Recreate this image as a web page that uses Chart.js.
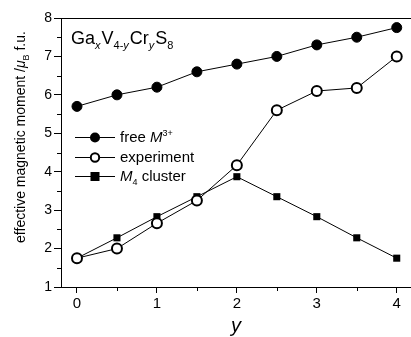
<!DOCTYPE html>
<html>
<head>
<meta charset="utf-8">
<script src="https://cdn.jsdelivr.net/npm/chart.js@4/dist/chart.umd.min.js"></script>
<style>
html,body{margin:0;padding:0;background:#fff;}
#wrap{width:411px;height:337px;position:relative;}
</style>
</head>
<body>
<div id="wrap"><canvas id="c" width="411" height="337"></canvas></div>
<script>
const yValues = [0, 0.5, 1, 1.5, 2, 2.5, 3, 3.5, 4];
const freeM = [5.7, 6.0, 6.2, 6.6, 6.8, 7.0, 7.3, 7.5, 7.75];
const experiment = [1.75, 2.0, 2.66, 3.25, 4.17, 5.6, 6.1, 6.18, 7.0];
const m4cluster = [1.75, 2.28, 2.83, 3.35, 3.87, 3.35, 2.83, 2.28, 1.75];
const xTicks = [0, 1, 2, 3, 4];
const yTicks = [1, 2, 3, 4, 5, 6, 7, 8];

const FONT = "'Liberation Sans', Arial, sans-serif";

function pts(vals){ return yValues.map((x,i)=>({x:x,y:vals[i]})); }

function drawRuns(ctx, x, y, runs){
  let cx = x;
  for (const r of runs){
    ctx.font = (r.italic ? 'italic ' : '') + r.size + 'px ' + FONT;
    ctx.fillText(r.t, cx, y + (r.dy||0));
    cx += ctx.measureText(r.t).width + (r.gap||0);
  }
  return cx;
}
function runsWidth(ctx, runs){
  let w = 0;
  for (const r of runs){
    ctx.font = (r.italic ? 'italic ' : '') + r.size + 'px ' + FONT;
    w += ctx.measureText(r.t).width + (r.gap||0);
  }
  return w;
}

const decor = {
  id: 'decor',
  afterDraw(chart){
    const ctx = chart.ctx;
    const a = chart.chartArea;
    const xs = chart.scales.x, ys = chart.scales.y;
    ctx.save();
    ctx.strokeStyle = '#000';
    ctx.fillStyle = '#000';
    ctx.lineWidth = 1;
    // top border
    ctx.beginPath();
    ctx.moveTo(a.left, a.top + 0.5);
    ctx.lineTo(chart.width, a.top + 0.5);
    ctx.stroke();
    // minor ticks
    ctx.beginPath();
    for (let v = -0.5; v <= 4.5; v += 1){
      const px = Math.round(xs.getPixelForValue(v)) + 0.5;
      if (px < a.left || px > a.right) continue;
      ctx.moveTo(px, a.bottom); ctx.lineTo(px, a.bottom + 4);
    }
    for (let v = 1.5; v < 8; v += 1){
      const py = Math.round(ys.getPixelForValue(v)) + 0.5;
      ctx.moveTo(a.left, py); ctx.lineTo(a.left - 4, py);
    }
    ctx.stroke();

    ctx.textBaseline = 'alphabetic';
    // title formula
    drawRuns(ctx, 71, 44, [
      {t:'Ga', size:18},
      {t:'x', size:11, italic:true, dy:5, gap:1},
      {t:'V', size:18},
      {t:'4-', size:11, dy:5},
      {t:'y', size:11, italic:true, dy:5, gap:1},
      {t:'Cr', size:18},
      {t:'y', size:11, italic:true, dy:5, gap:1},
      {t:'S', size:18},
      {t:'8', size:11, dy:5}
    ]);

    // y axis title
    const yt = [
      {t:'effective magnetic moment /', size:14},
      {t:'\u03bc', size:14, italic:true},
      {t:'B', size:9, dy:4},
      {t:' f.u.', size:14}
    ];
    const w = runsWidth(ctx, yt);
    ctx.save();
    ctx.translate(25, 137);
    ctx.rotate(-Math.PI/2);
    drawRuns(ctx, -w/2, 0, yt);
    ctx.restore();

    // x axis title
    ctx.font = 'italic 20px ' + FONT;
    ctx.textAlign = 'center';
    ctx.fillText('y', 236, 332);
    ctx.textAlign = 'left';

    // legend
    const items = [
      {y:137, type:'fc', runs:[{t:'free ', size:15},{t:'M', size:15, italic:true},{t:'3+', size:9, dy:-6}]},
      {y:157, type:'oc', runs:[{t:'experiment', size:15}]},
      {y:176, type:'sq', runs:[{t:'M', size:15, italic:true},{t:'4', size:9, dy:4},{t:' cluster', size:15}]}
    ];
    for (const it of items){
      ctx.beginPath();
      ctx.moveTo(75, it.y + 0.5); ctx.lineTo(115, it.y + 0.5);
      ctx.stroke();
      if (it.type === 'fc'){
        ctx.beginPath(); ctx.arc(95, it.y + 0.5, 5, 0, Math.PI*2); ctx.fill();
      } else if (it.type === 'oc'){
        ctx.beginPath(); ctx.arc(95, it.y + 0.5, 4.2, 0, Math.PI*2);
        ctx.fillStyle = '#fff'; ctx.fill(); ctx.fillStyle = '#000';
        ctx.lineWidth = 2; ctx.stroke(); ctx.lineWidth = 1;
      } else {
        ctx.fillRect(90.5, it.y - 4, 9, 9);
      }
      drawRuns(ctx, 120, it.y + 5, it.runs);
    }
    ctx.restore();
  }
};

new Chart(document.getElementById('c'), {
  type: 'line',
  data: {
    datasets: [
      {label:'free M3+', data: pts(freeM), borderColor:'#000', borderWidth:1,
       pointStyle:'circle', pointRadius:5, pointBackgroundColor:'#000', pointBorderColor:'#000', pointBorderWidth:1},
      {label:'experiment', data: pts(experiment), borderColor:'#000', borderWidth:1,
       pointStyle:'circle', pointRadius:5, pointBackgroundColor:'#fff', pointBorderColor:'#000', pointBorderWidth:2},
      {label:'M4 cluster', data: pts(m4cluster), borderColor:'#000', borderWidth:1,
       pointStyle:'rect', pointRadius:5, pointBackgroundColor:'#000', pointBorderColor:'#000', pointBorderWidth:0}
    ]
  },
  options: {
    responsive: false,
    animation: false,
    clip: false,
    layout: {autoPadding: false, padding: {top: 18, right: 1, left: 0, bottom: 0}},
    plugins: {legend:{display:false}, tooltip:{enabled:false}},
    elements: {line:{tension:0}},
    scales: {
      x: {
        type: 'linear', min: -0.2, max: 4.166,
        afterBuildTicks(s){ s.ticks = xTicks.map(v=>({value:v})); },
        afterFit(s){ s.height = 50; s.paddingLeft = 0; s.paddingRight = 0; },
        grid: {drawOnChartArea:false, tickLength:6, color:'#000', tickWidth:1},
        border: {display:true, color:'#000', width:1},
        ticks: {color:'#000', font:{family:FONT, size:15}, padding:2, callback:v=>String(v)}
      },
      y: {
        type: 'linear', min: 1, max: 8,
        afterBuildTicks(s){ s.ticks = yTicks.map(v=>({value:v})); },
        afterFit(s){ s.width = 61; s.paddingTop = 0; s.paddingBottom = 0; },
        grid: {drawOnChartArea:false, tickLength:7, color:'#000', tickWidth:1},
        border: {display:true, color:'#000', width:1},
        ticks: {color:'#000', font:{family:FONT, size:14}, padding:2, callback:v=>String(v)}
      }
    }
  },
  plugins: [decor]
});
</script>
</body>
</html>
